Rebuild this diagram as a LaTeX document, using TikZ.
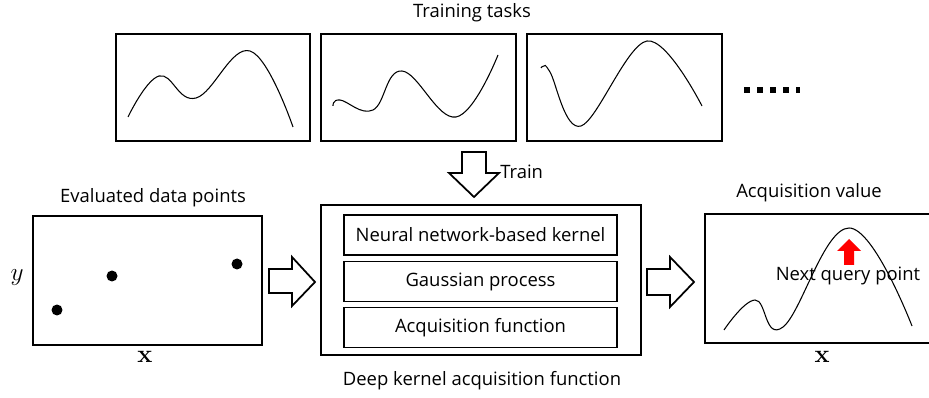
\documentclass[tikz,border=0pt]{standalone}
\usepackage[no-math]{fontspec}
\setmainfont{Open Sans}
\usetikzlibrary{positioning}

\tikzset{
  panel/.style={draw, line width=1.1pt, inner sep=0pt},
  layer/.style={draw, line width=1.1pt, inner sep=0pt, minimum width=5.46cm, minimum height=0.8cm, font=\fontsize{10.5}{12}\selectfont},
  txt/.style={inner sep=0pt, font=\fontsize{10.5}{12}\selectfont},
  curve/.style={line width=0.6pt},
  blockarrow/.style={draw, line width=1pt, fill=white, line join=miter},
  datapt/.style={circle, fill, inner sep=0pt, minimum size=0.22cm},
}

\begin{document}
\begin{tikzpicture}[x=0.02cm, y=-0.02cm]
\clip (0,0) rectangle (929,398);
% 训练任务
\node[txt] (tasks) at (472,13) {Training tasks};
\node[panel, minimum width=3.88cm, minimum height=2.14cm] (task1) at (213,87.5) {};
\node[panel, minimum width=3.9cm, minimum height=2.14cm] (task2) at (418.5,87.5) {};
\node[panel, minimum width=3.9cm, minimum height=2.14cm] (task3) at (624.5,87.5) {};
\draw[curve] plot[smooth, tension=0.7] coordinates {(128,117) (159,76) (196,98) (250,51) (293,127)};
\draw[curve] plot[smooth, tension=0.7] coordinates {(333,106) (340,100) (373,110) (402,71) (456,117) (498,55)};
\draw[curve] plot[smooth, tension=0.6] coordinates {(541,68) (544,66) (550,72) (581,126) (647,41) (702,106)};
% 省略号
\draw[line width=0.12cm, dash pattern=on 0.11cm off 0.15cm] (744,90) -- (800,90);
% Train 箭头
\draw[blockarrow] (462,152) -- (486,152) -- (486,173) -- (499,173) -- (474,197) -- (449,173) -- (462,173) -- cycle;
\node[txt, anchor=west] (train) at (500,172) {Train};
% 已评估数据点
\node[txt] (evaltitle) at (153,198) {Evaluated data points};
\node[panel, minimum width=4.58cm, minimum height=2.58cm] (evalbox) at (147.5,280.5) {};
\node[datapt] (p1) at (57,310) {};
\node[datapt] (p2) at (112,276) {};
\node[datapt] (p3) at (237,264) {};
\node (ylab) at (17,278) {\Large $y$};
\node (xlab1) at (145,357) {\Large $\mathbf{x}$};
\draw[blockarrow] (269,269) -- (292,269) -- (292,257) -- (315,282) -- (292,306) -- (292,293) -- (269,293) -- cycle;
% 深度核采集函数
\node[panel, minimum width=6.4cm, minimum height=3cm] (dkaf) at (481,280) {};
\node[layer] (nnk) at (480.5,235) {Neural network-based kernel};
\node[layer] (gp) at (480.5,281.5) {Gaussian process};
\node[layer] (af) at (480.5,327.5) {Acquisition function};
\node[txt] (dkaftitle) at (482,381) {Deep kernel acquisition function};
\draw[blockarrow] (647,269) -- (670,269) -- (670,257) -- (694,282) -- (670,307) -- (670,295) -- (647,295) -- cycle;
% 采集值
\node[txt] (acqtitle) at (809,193) {Acquisition value};
\node[panel, minimum width=4.7cm, minimum height=2.58cm] (acqbox) at (822.5,278.5) {};
\draw[curve] plot[smooth, tension=0.7] coordinates {(724,330) (755,300) (783,327) (849,228) (912,326)};
\fill[red] (844,265) -- (844,251) -- (837,251) -- (849,239) -- (861,251) -- (854,251) -- (854,265) -- cycle;
\node[txt] (nextq) at (848,276) {Next query point};
\node (xlab2) at (822,357) {\Large $\mathbf{x}$};
\end{tikzpicture}
\end{document}
